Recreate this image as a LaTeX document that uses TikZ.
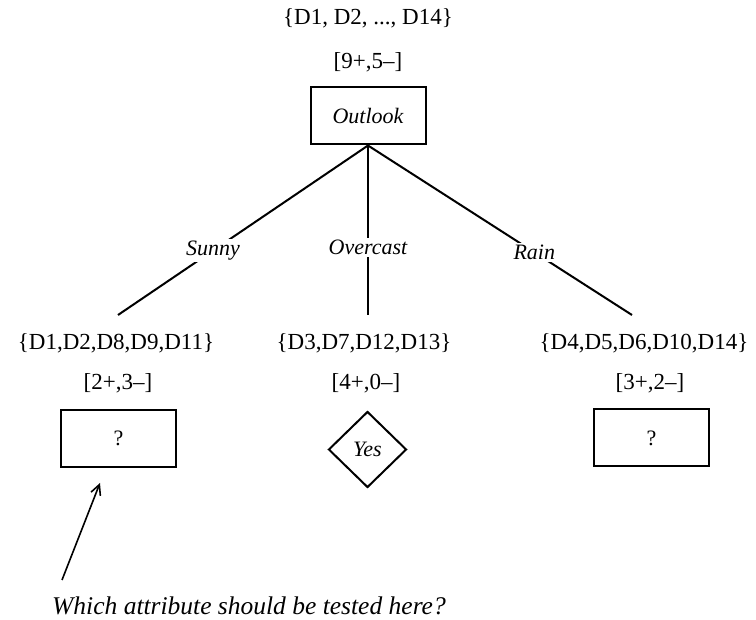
\documentclass[tikz,border=0pt]{standalone}
\usepackage{fontspec}
\setmainfont{Liberation Serif}
\usetikzlibrary{shapes.geometric,arrows.meta}
\begin{document}
\begin{tikzpicture}[x=1pt,y=-1pt,
  lbl/.style={font=\fontsize{23}{26}\selectfont, inner sep=1pt},
  edgelbl/.style={font=\fontsize{22}{25}\selectfont\itshape, fill=white, inner sep=2pt},
  testbox/.style={draw, line width=2pt, minimum width=115pt, minimum height=57pt, font=\fontsize{22}{25}\selectfont},
  leafdia/.style={draw, diamond, line width=2pt, minimum width=78pt, minimum height=76pt, inner sep=0pt, font=\fontsize{22}{25}\selectfont\itshape},
  branch/.style={line width=2pt}]
\useasboundingbox (0,0) rectangle (756,620);
% root
\node[lbl] (rset) at (368,18) {\{D1, D2, ..., D14\}};
\node[lbl] (rcnt) at (368,62) {[9+,5–]};
\node[testbox] (root) at (368,116) {\itshape Outlook};
% children sets
\node[lbl] (sset) at (116,343) {\{D1,D2,D8,D9,D11\}};
\node[lbl] (scnt) at (118,383) {[2+,3–]};
\node[testbox] (sbox) at (118.5,438.5) {?};
\node[lbl] (oset) at (364,343) {\{D3,D7,D12,D13\}};
\node[lbl] (ocnt) at (366,383) {[4+,0–]};
\node[leafdia] (yes) at (367.5,449.5) {Yes};
\node[lbl] (rnset) at (644,343) {\{D4,D5,D6,D10,D14\}};
\node[lbl] (rncnt) at (650,383) {[3+,2–]};
\node[testbox] (rnbox) at (651.5,438) {?};
% branch end points
\coordinate (se) at (118,315);
\coordinate (oe) at (368,315);
\coordinate (re) at (632,315);
\draw[branch] (root.south) -- node[edgelbl, pos=0.62] {Sunny} (se);
\draw[branch] (root.south) -- node[edgelbl, pos=0.6] {Overcast} (oe);
\draw[branch] (root.south) -- node[edgelbl, pos=0.63] {Rain} (re);
% question
\node[font=\fontsize{25.5}{28}\selectfont\itshape] (q) at (249,606) {Which attribute should be tested here?};
\coordinate (qa) at (62,580);
\coordinate (qb) at (100,483);
\draw[line width=1.6pt, -{Straight Barb[length=10pt,width=10pt]}] (qa) -- (qb);
\end{tikzpicture}
\end{document}
